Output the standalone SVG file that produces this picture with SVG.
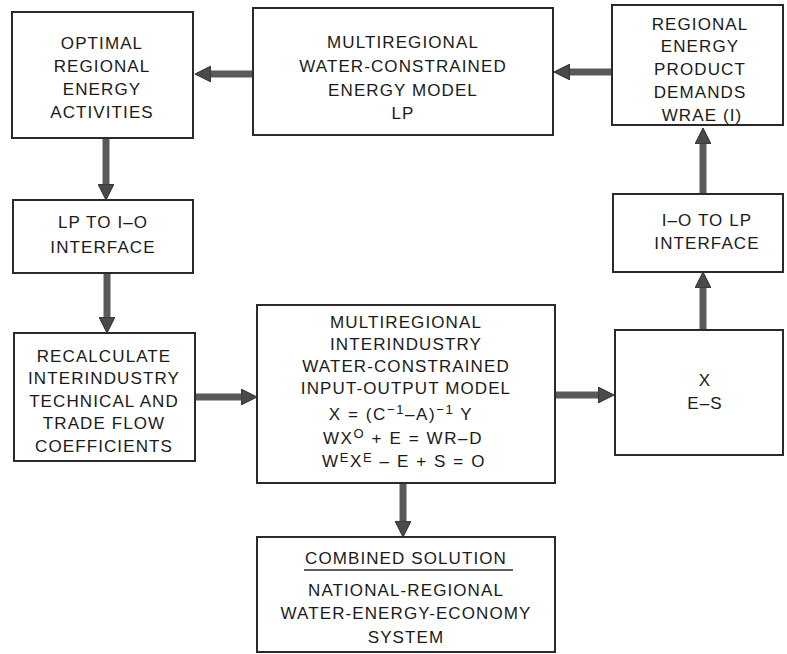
<svg xmlns="http://www.w3.org/2000/svg" width="787" height="654" viewBox="0 0 787 654">
<style>
.box{fill:#fff;stroke:#2a2a2a;stroke-width:2}
.t{font-family:"Liberation Sans",Arial,sans-serif;font-size:17px;letter-spacing:1.1px;fill:#1a1a1a;text-anchor:middle}
.eq{letter-spacing:1.6px}
.sup{font-size:13px}
.conn{stroke:#5a5a5a;stroke-width:7;fill:none}
</style>
<defs>
<marker id="ah" markerUnits="userSpaceOnUse" markerWidth="16" markerHeight="16" viewBox="0 0 16 16" refX="4" refY="8" orient="auto">
<path d="M0,0 L16,8 L0,16 z" fill="#4a4a4a" stroke="#2a2a2a" stroke-width="1"/>
</marker>
</defs>
<rect width="787" height="654" fill="#fff"/>
<g id="connectors">
<line class="conn" x1="253" y1="74" x2="207" y2="74" marker-end="url(#ah)"/>
<line class="conn" x1="612" y1="72" x2="566" y2="72" marker-end="url(#ah)"/>
<line class="conn" x1="106" y1="139" x2="106" y2="188" marker-end="url(#ah)"/>
<line class="conn" x1="107" y1="273" x2="107" y2="321" marker-end="url(#ah)"/>
<line class="conn" x1="196" y1="397" x2="245" y2="397" marker-end="url(#ah)"/>
<line class="conn" x1="555" y1="395" x2="602" y2="395" marker-end="url(#ah)"/>
<line class="conn" x1="703" y1="330" x2="703" y2="284" marker-end="url(#ah)"/>
<line class="conn" x1="703" y1="194" x2="703" y2="140" marker-end="url(#ah)"/>
<line class="conn" x1="403" y1="484" x2="403" y2="525" marker-end="url(#ah)"/>
</g>
<g id="optimal">
<rect class="box" x="12" y="12" width="181" height="126"/>
<text class="t" x="102" y="49">OPTIMAL</text>
<text class="t" x="102" y="72">REGIONAL</text>
<text class="t" x="102" y="95">ENERGY</text>
<text class="t" x="102" y="118">ACTIVITIES</text>
</g>
<g id="lp-model">
<rect class="box" x="253" y="8" width="300" height="127"/>
<text class="t" x="403" y="48">MULTIREGIONAL</text>
<text class="t" x="403" y="72">WATER-CONSTRAINED</text>
<text class="t" x="403" y="96">ENERGY MODEL</text>
<text class="t" x="403" y="119">LP</text>
</g>
<g id="demands">
<rect class="box" x="612" y="5" width="171" height="120"/>
<text class="t" x="700" y="30">REGIONAL</text>
<text class="t" x="700" y="52">ENERGY</text>
<text class="t" x="700" y="75">PRODUCT</text>
<text class="t" x="700" y="98">DEMANDS</text>
<text class="t" x="702" y="121">WRAE (I)</text>
</g>
<g id="lp-to-io">
<rect class="box" x="13" y="200" width="180" height="73"/>
<text class="t" x="103" y="228">LP TO I–O</text>
<text class="t" x="103" y="253">INTERFACE</text>
</g>
<g id="recalculate">
<rect class="box" x="14" y="333" width="181" height="128"/>
<text class="t" x="104" y="362">RECALCULATE</text>
<text class="t" x="104" y="384">INTERINDUSTRY</text>
<text class="t" x="104" y="407">TECHNICAL AND</text>
<text class="t" x="104" y="429">TRADE FLOW</text>
<text class="t" x="104" y="452">COEFFICIENTS</text>
</g>
<g id="io-model">
<rect class="box" x="257" y="305" width="298" height="178"/>
<text class="t" x="406" y="328">MULTIREGIONAL</text>
<text class="t" x="406" y="350">INTERINDUSTRY</text>
<text class="t" x="406" y="372">WATER-CONSTRAINED</text>
<text class="t" x="406" y="394">INPUT-OUTPUT MODEL</text>
<text class="t eq" x="401" y="420">X = (C<tspan class="sup" dy="-6">−1</tspan><tspan dy="6">–A)</tspan><tspan class="sup" dy="-6">−1</tspan><tspan dy="6">  Y</tspan></text>
<text class="t eq" x="403" y="444">WX<tspan class="sup" dy="-6">O</tspan><tspan dy="6"> + E = WR–D</tspan></text>
<text class="t eq" x="404" y="467">W<tspan class="sup" dy="-5">E</tspan><tspan dy="5">X</tspan><tspan class="sup" dy="-5">E</tspan><tspan dy="5"> – E + S = O</tspan></text>
</g>
<g id="xes">
<rect class="box" x="615" y="330" width="168" height="125"/>
<text class="t" x="705" y="386">X</text>
<text class="t" x="705" y="409">E–S</text>
</g>
<g id="io-to-lp">
<rect class="box" x="613" y="194" width="170" height="78"/>
<text class="t" x="707" y="226">I–O TO LP</text>
<text class="t" x="707" y="249">INTERFACE</text>
</g>
<g id="combined">
<rect class="box" x="257" y="537" width="298" height="115"/>
<text class="t" x="406" y="564">COMBINED SOLUTION</text>
<line x1="304" y1="570" x2="513" y2="570" stroke="#2a2a2a" stroke-width="1.5"/>
<text class="t" x="406" y="596">NATIONAL-REGIONAL</text>
<text class="t" x="406" y="619">WATER-ENERGY-ECONOMY</text>
<text class="t" x="406" y="643">SYSTEM</text>
</g>
</svg>
